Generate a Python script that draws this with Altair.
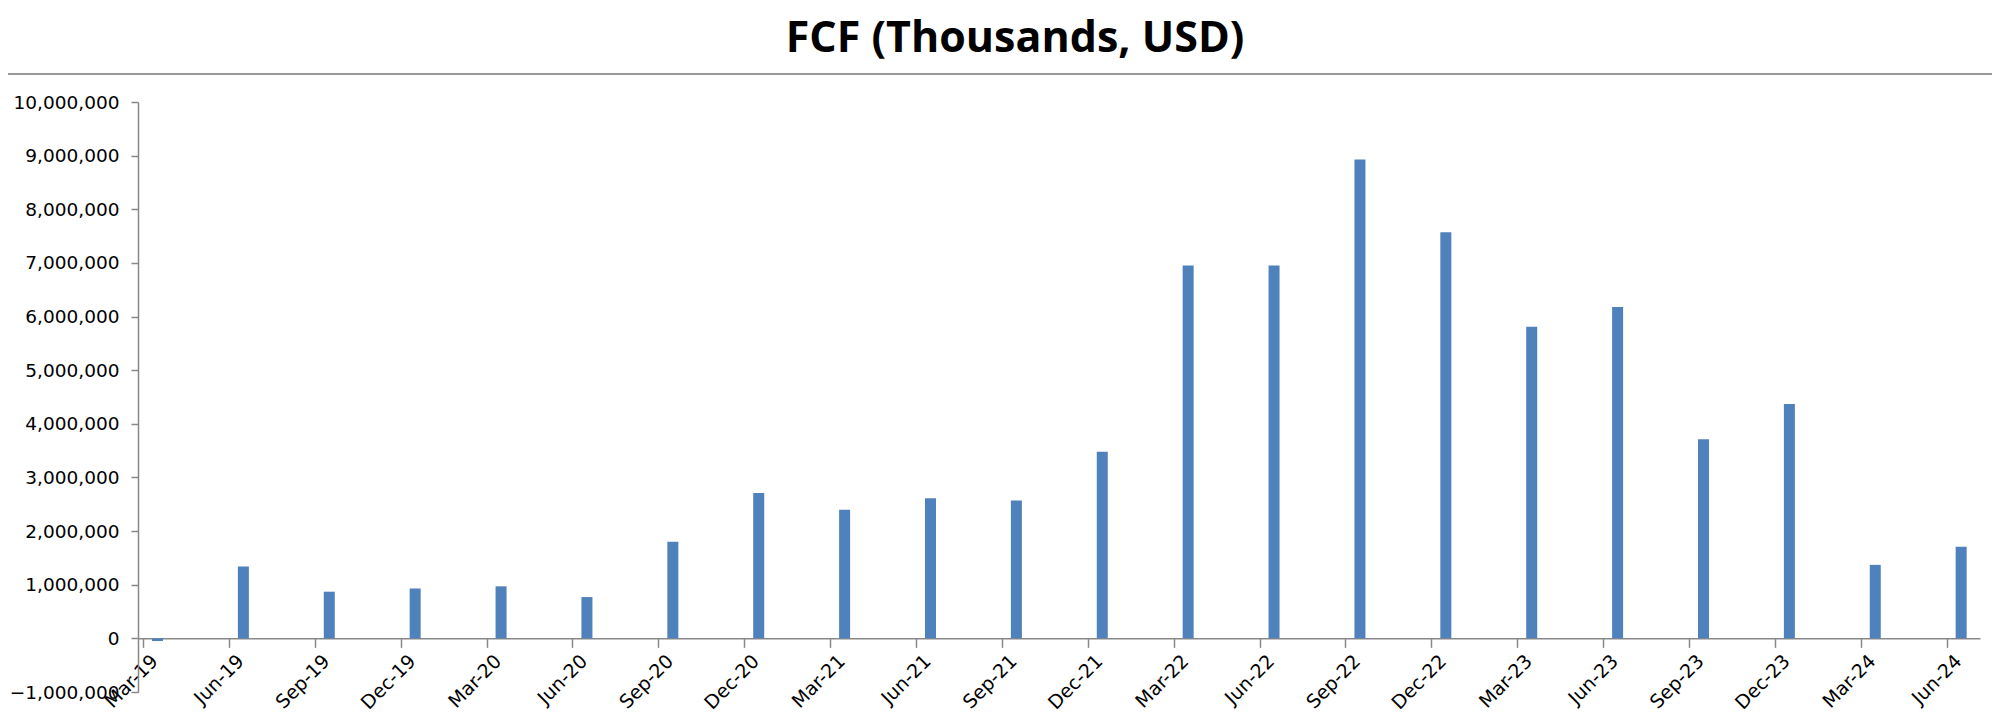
import altair as alt
import pandas as pd

quarters = ["Mar-19", "Jun-19", "Sep-19", "Dec-19", "Mar-20", "Jun-20", "Sep-20", "Dec-20",
            "Mar-21", "Jun-21", "Sep-21", "Dec-21", "Mar-22", "Jun-22", "Sep-22", "Dec-22",
            "Mar-23", "Jun-23", "Sep-23", "Dec-23", "Mar-24", "Jun-24"]
fcf = [-50000, 1340000, 870000, 930000, 970000, 770000, 1800000, 2710000,
       2400000, 2610000, 2570000, 3480000, 6950000, 6950000, 8930000, 7570000,
       5810000, 6180000, 3710000, 4370000, 1370000, 1710000]
y_ticks = list(range(-1000000, 10000001, 1000000))

df = pd.DataFrame({"idx": list(range(len(quarters))), "quarter": quarters, "fcf": fcf})

W, H = 1842, 590
AXIS_COLOR = "#888888"
FONT = "DejaVu Sans"

label_array = "[" + ",".join("'" + q + "'" for q in quarters) + "]"

x_enc = alt.X(
    "idx:Q",
    scale=alt.Scale(domain=[0, 21.33], nice=False, zero=False),
    axis=alt.Axis(
        values=list(range(len(quarters))),
        labelExpr=label_array + "[datum.value]",
        labelAngle=-45,
        labelAlign="right",
        labelBaseline="top",
        labelFont=FONT,
        labelFontSize=19,
        labelColor="#000000",
        labelPadding=4,
        labelOffset=5,
        tickSize=9,
        tickColor=AXIS_COLOR,
        tickWidth=1.5,
        domainColor=AXIS_COLOR,
        domainWidth=1.5,
        grid=False,
        title=None,
        offset=-H / 11.0,
        labelOverlap=False,
    ),
)

y_enc = alt.Y(
    "fcf:Q",
    scale=alt.Scale(domain=[-1000000, 10000000], nice=False),
    axis=alt.Axis(
        values=y_ticks,
        format=",.0f",
        labelFont=FONT,
        labelFontSize=18.5,
        labelColor="#000000",
        labelPadding=12,
        tickSize=7,
        tickColor=AXIS_COLOR,
        tickWidth=1.5,
        domainColor=AXIS_COLOR,
        domainWidth=1.5,
        grid=False,
        title=None,
    ),
)

bars = alt.Chart(df).mark_bar(size=11, color="#4F81BD", xOffset=14.5).encode(
    x=x_enc,
    y=y_enc,
)

sep_line = alt.Chart(pd.DataFrame({"k": [0]})).mark_rule(color="#999999", strokeWidth=2).encode(
    x=alt.value(-140), x2=alt.value(W + 20), y=alt.value(-28)
)

chart = alt.layer(bars, sep_line).properties(
    width=W,
    height=H,
    title=alt.TitleParams(
        "FCF (Thousands, USD)",
        font="Open Sans",
        fontSize=43,
        fontWeight="bold",
        color="#000000",
        anchor="middle",
        frame="group",
        dx=-44,
        baseline="alphabetic",
        offset=-22,
    ),
    autosize=alt.AutoSizeParams(type="none"),
    padding={"left": 130, "top": 94, "right": 12, "bottom": 24},
).configure_view(stroke=None)

chart.save("out.html", embed_options={"renderer": "svg", "actions": False})
